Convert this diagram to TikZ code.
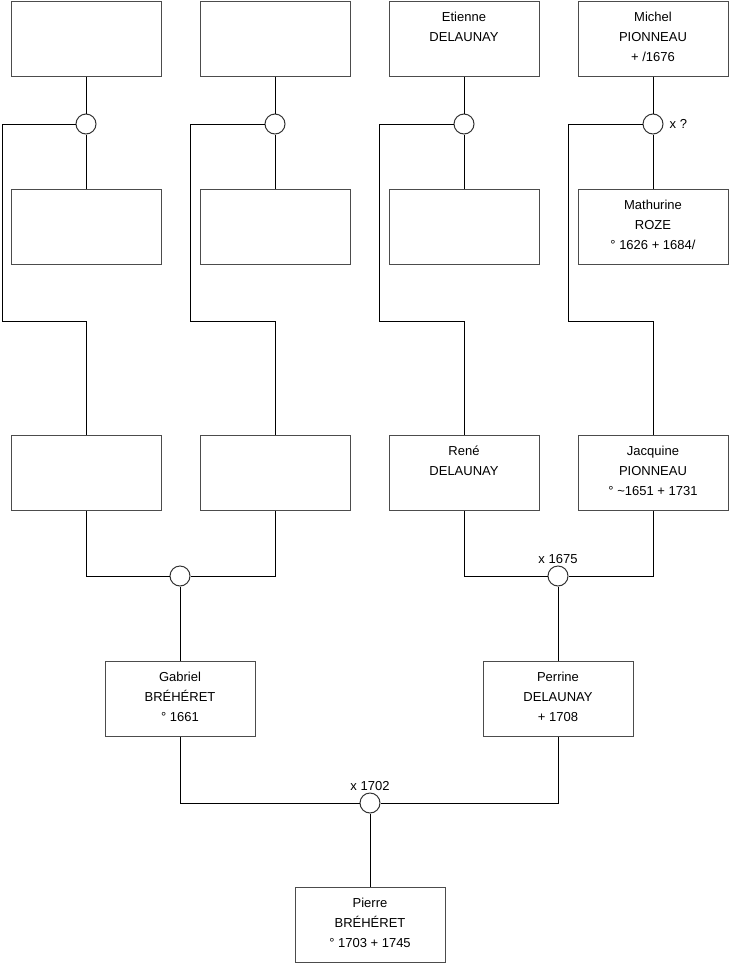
\documentclass[tikz,border=0pt]{standalone}
\usepackage{fontspec}
\setmainfont{Liberation Sans}
\begin{document}
\begin{tikzpicture}[x=1pt,y=-1pt,
  pbox/.style={draw=black!70,line width=1pt,fill=white,minimum width=150pt,minimum height=75pt,inner sep=0pt},
  ptext/.style={anchor=north,align=center,inner sep=0pt,font=\fontsize{13}{20}\selectfont,yshift=-6.5pt},
  union/.style={draw=black!80,line width=1pt,circle,minimum size=20pt,inner sep=0pt,fill=white},
  lbl/.style={inner sep=0pt,font=\fontsize{13}{16}\selectfont},
  link/.style={line width=1pt,black}]
\useasboundingbox (0,0) rectangle (740,975);
% row 1
\node[pbox] (a1) at (86,38.5) {};
\node[pbox] (a2) at (275,38.5) {};
\node[pbox] (a3) at (464,38.5) {};
\node[pbox] (a4) at (653,38.5) {};
\node[ptext] (ta3) at (a3.north) {\strut Etienne\\DELAUNAY};
\node[ptext] (ta4) at (a4.north) {\strut Michel\\PIONNEAU\\+ /1676};
% row 2
\node[pbox] (b1) at (86,227) {};
\node[pbox] (b2) at (275,227) {};
\node[pbox] (b3) at (464,227) {};
\node[pbox] (b4) at (653,227) {};
\node[ptext] (tb4) at (b4.north) {\strut Mathurine\\ROZE\\° 1626 + 1684/};
% unions row 1
\node[union] (u1) at (86,124) {};
\node[union] (u2) at (275,124) {};
\node[union] (u3) at (464,124) {};
\node[union] (u4) at (653,124) {};
\node[lbl,anchor=west] (lx) at ([xshift=6pt]u4.east) {x ?};
% row 3
\node[pbox] (c1) at (86,473) {};
\node[pbox] (c2) at (275,473) {};
\node[pbox] (c3) at (464,473) {};
\node[pbox] (c4) at (653,473) {};
\node[ptext] (tc3) at (c3.north) {\strut René\\DELAUNAY};
\node[ptext] (tc4) at (c4.north) {\strut Jacquine\\PIONNEAU\\° \textasciitilde 1651 + 1731};
% bend coordinates
\coordinate (k1) at (2,321);
\coordinate (k2) at (190,321);
\coordinate (k3) at (379,321);
\coordinate (k4) at (568,321);
% unions row 3
\node[union] (v1) at (180,576) {};
\node[union] (v2) at (558,576) {};
\node[lbl,anchor=base] (lv2) at (558,563) {x 1675};
% row 4
\node[pbox] (d1) at (180,699) {};
\node[pbox] (d2) at (558,699) {};
\node[ptext] (td1) at (d1.north) {\strut Gabriel\\BRÉHÉRET\\° 1661};
\node[ptext] (td2) at (d2.north) {\strut Perrine\\DELAUNAY\\+ 1708};
\node[union] (w) at (370,803) {};
\node[lbl,anchor=base] (lw) at (370,790) {x 1702};
% row 5
\node[pbox] (e1) at (370,925) {};
\node[ptext] (te1) at (e1.north) {\strut Pierre\\BRÉHÉRET\\° 1703 + 1745};
% connectors
\foreach \i in {1,2,3,4}{
  \draw[link] (a\i.south) -- (u\i.north);
  \draw[link] (u\i.south) -- (b\i.north);
  \draw[link] (u\i.west) -| (k\i) -| (c\i.north);
}
\draw[link] (c1.south) |- (v1.west);
\draw[link] (c2.south) |- (v1.east);
\draw[link] (v1.south) -- (d1.north);
\draw[link] (c3.south) |- (v2.west);
\draw[link] (c4.south) |- (v2.east);
\draw[link] (v2.south) -- (d2.north);
\draw[link] (d1.south) |- (w.west);
\draw[link] (d2.south) |- (w.east);
\draw[link] (w.south) -- (e1.north);
\end{tikzpicture}
\end{document}
